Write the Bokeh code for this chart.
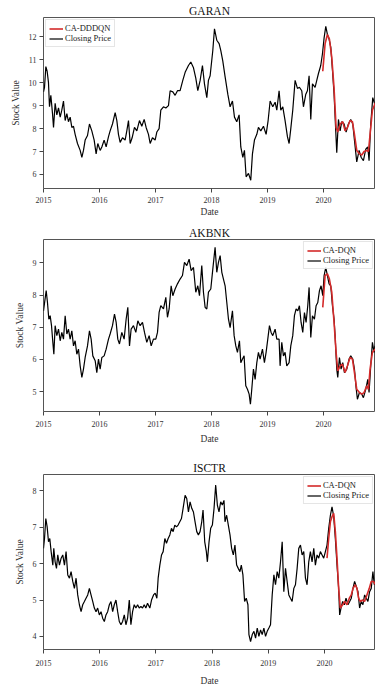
from bokeh.plotting import figure
from bokeh.layouts import column
from bokeh.models import FixedTicker, Legend, LegendItem, Range1d
from bokeh.embed import file_html
from bokeh.resources import INLINE

FONT = "Liberation Serif"
X_TICKS = [2015, 2016, 2017, 2018, 2019, 2020]

# ---------------- GARAN ----------------
garan_t = [0.000,0.018,0.042,0.065,0.089,0.107,0.131,0.161,0.179,0.208,
           0.238,0.268,0.298,0.327,0.357,0.387,0.417,0.446,0.476,0.506,
           0.536,0.565,0.607,0.655,0.685,0.714,0.744,0.786,0.821,0.863,
           0.905,0.940,0.970,1.012,1.042,1.083,1.119,1.161,1.190,1.232,
           1.280,1.310,1.339,1.369,1.411,1.458,1.488,1.518,1.548,1.583,
           1.625,1.667,1.714,1.756,1.798,1.833,1.875,1.905,1.946,1.994,
           2.024,2.065,2.095,2.143,2.185,2.232,2.262,2.310,2.351,2.393,
           2.440,2.488,2.530,2.589,2.631,2.679,2.720,2.756,2.798,2.839,
           2.875,2.917,2.946,2.976,3.024,3.054,3.095,3.137,3.167,3.202,
           3.244,3.292,3.333,3.375,3.411,3.452,3.494,3.524,3.560,3.589,
           3.619,3.661,3.702,3.732,3.768,3.810,3.839,3.881,3.929,3.976,
           4.012,4.048,4.095,4.137,4.167,4.208,4.238,4.274,4.315,4.357,
           4.387,4.417,4.452,4.494,4.536,4.571,4.613,4.643,4.685,4.714,
           4.744,4.774,4.804,4.851,4.881,4.911,4.952,4.982,5.012,5.042,
           5.071,5.101,5.131,5.161,5.190,5.220,5.238,5.268,5.298,5.327,
           5.369,5.405,5.446,5.488,5.524,5.554,5.595,5.637,5.673,5.714,
           5.756,5.792,5.815,5.845,5.881,5.923,5.960]
garan_close = [9.6,9.8,10.7,10.5,10.0,8.95,9.45,8.65,8.05,9.1,
               8.6,8.9,8.5,8.8,9.2,8.35,8.65,8.3,8.5,8.05,
               8.1,7.75,7.35,7.05,6.75,7.05,7.5,7.7,8.2,7.9,
               7.5,6.9,7.35,7.05,7.2,7.5,7.2,7.65,7.9,8.2,
               8.7,8.35,7.75,7.4,7.6,7.5,7.9,8.35,7.35,7.6,
               8.05,7.9,8.35,8.1,8.4,8.05,7.75,7.35,7.6,7.5,
               7.85,8.0,8.8,8.95,8.9,9.0,9.65,9.6,9.45,9.65,
               9.65,10.1,10.45,10.75,10.9,10.65,10.2,9.65,10.1,10.75,
               9.95,9.35,10.1,10.3,11.4,12.35,11.85,11.7,11.4,10.95,
               10.25,9.5,8.95,9.2,8.5,8.3,8.6,7.2,6.75,7.05,
               5.9,6.05,5.75,6.9,7.5,7.75,8.05,7.9,8.1,7.75,
               8.35,9.2,8.95,9.15,8.8,9.65,8.8,8.95,8.35,7.65,
               7.35,8.0,8.8,10.1,9.75,9.8,9.65,8.95,9.5,9.65,
               10.3,8.4,9.95,9.8,10.1,10.4,10.75,11.25,11.95,12.45,
               12.1,11.9,11.55,10.55,9.5,7.9,6.95,8.4,7.9,8.3,
               8.2,7.85,8.2,8.4,8.2,7.5,6.55,7.05,6.75,6.6,
               7.1,7.2,6.6,8.2,9.35,9.0,9.1]
garan_pred_t = [4.988,5.030,5.071,5.107,5.149,5.190,5.226,5.256,5.298,5.345,
                5.387,5.429,5.476,5.518,5.554,5.595,5.643,5.685,5.726,5.774,
                5.804,5.833,5.875,5.923,5.960]
garan_pred = [10.5,11.7,12.1,11.9,11.1,9.75,8.05,7.85,8.2,8.3,
              7.9,8.05,8.35,8.3,7.75,7.05,6.9,6.85,7.0,7.05,
              7.0,7.75,8.8,9.1,9.2]

# ---------------- AKBNK ----------------
akbnk_t = [0.000,0.024,0.048,0.071,0.095,0.119,0.143,0.167,0.185,0.208,
           0.238,0.268,0.298,0.327,0.357,0.387,0.417,0.446,0.476,0.506,
           0.536,0.565,0.595,0.625,0.655,0.685,0.714,0.744,0.786,0.821,
           0.851,0.881,0.923,0.952,0.982,1.012,1.042,1.083,1.119,1.161,
           1.190,1.232,1.268,1.298,1.327,1.357,1.399,1.440,1.476,1.506,
           1.536,1.565,1.607,1.649,1.685,1.726,1.768,1.804,1.845,1.887,
           1.923,1.964,2.006,2.036,2.065,2.095,2.143,2.185,2.214,2.244,
           2.280,2.310,2.351,2.393,2.440,2.482,2.518,2.560,2.601,2.637,
           2.679,2.720,2.756,2.786,2.827,2.857,2.887,2.917,2.946,2.988,
           3.024,3.065,3.095,3.125,3.155,3.185,3.214,3.244,3.274,3.304,
           3.333,3.375,3.405,3.435,3.464,3.500,3.524,3.554,3.583,3.613,
           3.643,3.673,3.696,3.720,3.750,3.780,3.810,3.839,3.869,3.911,
           3.946,3.976,4.006,4.036,4.065,4.095,4.137,4.167,4.208,4.226,
           4.256,4.286,4.315,4.345,4.387,4.417,4.452,4.482,4.512,4.542,
           4.571,4.601,4.631,4.661,4.690,4.720,4.744,4.774,4.804,4.839,
           4.869,4.899,4.929,4.958,4.988,5.012,5.042,5.071,5.101,5.131,
           5.161,5.190,5.208,5.238,5.256,5.286,5.315,5.345,5.375,5.417,
           5.458,5.488,5.524,5.554,5.583,5.607,5.643,5.685,5.714,5.756,
           5.792,5.815,5.845,5.875,5.905,5.923,5.960]
akbnk_close = [7.51,7.83,8.14,7.77,7.25,7.36,7.05,6.53,6.16,7.05,
               6.74,6.94,6.58,6.84,6.63,7.36,6.79,6.94,6.63,6.89,
               6.42,6.58,6.16,6.32,5.80,5.44,5.70,6.06,6.42,6.89,
               6.63,6.11,5.96,5.59,6.01,5.70,6.06,6.11,6.32,6.63,
               6.79,7.05,7.41,7.15,6.63,6.48,6.84,6.63,7.25,7.62,
               6.42,6.94,7.05,6.84,7.20,7.05,7.15,6.84,6.53,6.74,
               6.42,6.63,6.63,6.84,7.46,7.67,7.57,7.93,7.31,7.57,
               8.29,7.98,8.19,8.35,8.50,8.61,9.02,8.92,9.12,8.76,
               8.86,8.09,8.29,7.98,8.92,8.09,7.62,7.57,8.09,8.19,
               8.81,9.49,8.71,9.02,9.23,8.71,8.50,8.29,7.77,7.25,
               6.99,7.51,6.74,6.42,6.22,6.58,5.90,6.01,6.11,5.18,
               5.07,4.92,4.61,5.07,5.70,5.38,5.90,6.22,6.01,6.32,
               5.90,6.22,6.63,7.05,6.84,6.74,6.94,6.63,6.63,5.80,
               6.53,6.11,6.22,5.80,5.90,6.42,6.74,7.36,7.57,7.51,
               7.67,7.15,6.84,7.46,7.15,7.67,8.24,6.68,7.36,7.25,
               7.67,7.77,8.14,8.29,7.98,8.61,8.86,8.61,8.35,8.29,
               7.67,7.25,6.74,5.70,5.44,6.06,5.70,5.90,5.59,5.70,
               6.01,6.11,6.01,5.70,5.13,4.76,4.97,4.92,4.81,5.07,
               5.38,4.97,5.80,6.53,6.22,6.42,6.35]
akbnk_pred_t = [4.988,5.030,5.071,5.107,5.149,5.190,5.226,5.256,5.298,5.339,
                5.387,5.429,5.476,5.518,5.554,5.595,5.643,5.685,5.726,5.774,
                5.804,5.833,5.875,5.923,5.960]
akbnk_pred = [7.62,8.61,8.66,8.50,8.09,7.15,6.22,5.64,5.80,5.85,
              5.59,5.80,6.06,6.01,5.59,5.07,4.97,4.92,4.97,5.18,
              5.07,5.70,6.22,6.32,6.30]

# ---------------- ISCTR ----------------
isctr_t = [0.000,0.018,0.041,0.065,0.089,0.112,0.136,0.166,0.183,0.207,
           0.231,0.254,0.284,0.314,0.343,0.373,0.402,0.432,0.462,0.491,
           0.521,0.550,0.580,0.609,0.639,0.669,0.698,0.728,0.757,0.787,
           0.817,0.846,0.876,0.905,0.935,0.964,0.994,1.024,1.053,1.083,
           1.112,1.142,1.172,1.201,1.231,1.260,1.290,1.320,1.349,1.379,
           1.408,1.438,1.467,1.497,1.527,1.556,1.586,1.615,1.645,1.675,
           1.704,1.734,1.763,1.793,1.822,1.852,1.893,1.923,1.959,1.988,
           2.018,2.041,2.071,2.101,2.130,2.160,2.189,2.219,2.249,2.278,
           2.308,2.337,2.367,2.396,2.426,2.456,2.485,2.521,2.550,2.580,
           2.609,2.639,2.669,2.698,2.728,2.757,2.787,2.817,2.840,2.870,
           2.899,2.917,2.947,2.976,3.006,3.036,3.065,3.095,3.124,3.154,
           3.183,3.213,3.231,3.260,3.290,3.320,3.349,3.379,3.408,3.438,
           3.467,3.497,3.521,3.550,3.580,3.609,3.639,3.657,3.686,3.716,
           3.746,3.775,3.805,3.834,3.864,3.893,3.923,3.953,3.982,4.012,
           4.041,4.071,4.101,4.130,4.160,4.189,4.219,4.249,4.278,4.308,
           4.337,4.367,4.396,4.426,4.456,4.485,4.515,4.544,4.574,4.604,
           4.633,4.663,4.692,4.722,4.751,4.781,4.811,4.840,4.870,4.899,
           4.929,4.959,4.988,5.018,5.047,5.077,5.107,5.136,5.166,5.195,
           5.225,5.254,5.272,5.296,5.325,5.355,5.385,5.420,5.450,5.479,
           5.509,5.538,5.568,5.598,5.627,5.657,5.686,5.716,5.746,5.775,
           5.805,5.834,5.864,5.888,5.911,5.960]
isctr_close = [6.42,6.69,7.24,7.01,6.60,6.69,6.33,5.96,6.42,6.05,
               5.87,6.24,5.96,6.15,6.24,5.96,6.33,5.69,5.60,5.78,
               5.51,5.32,5.60,5.14,4.87,4.68,4.87,4.96,5.05,5.14,
               5.32,5.14,4.96,4.78,4.68,4.78,4.59,4.68,4.50,4.41,
               4.59,4.68,4.87,4.96,4.68,4.87,5.00,4.68,4.41,4.32,
               4.41,4.59,4.32,4.50,5.00,4.32,4.68,4.87,4.78,4.87,
               4.78,4.82,4.78,4.87,4.78,4.91,4.78,5.00,5.14,5.19,
               5.05,5.60,5.96,6.24,6.33,6.69,6.56,6.69,6.79,6.97,
               6.88,7.06,7.01,7.06,7.15,7.24,7.52,7.88,7.79,7.42,
               7.70,7.52,7.42,7.15,6.88,6.79,6.88,7.15,7.47,6.60,
               6.33,6.05,6.60,6.97,7.06,7.52,8.16,7.61,7.42,7.70,
               7.61,7.74,7.15,7.33,7.06,6.79,6.42,6.24,6.51,5.96,
               5.87,5.78,5.96,5.69,4.96,5.05,4.87,4.05,3.86,4.05,
               4.14,3.95,4.23,4.00,4.18,4.05,4.23,4.00,4.14,4.23,
               4.32,5.14,5.69,5.42,5.78,5.60,6.05,6.60,5.23,5.87,
               5.51,5.14,5.05,4.96,5.32,5.42,5.87,6.42,6.51,6.24,
               6.33,5.60,5.42,6.05,6.33,6.05,6.42,5.96,6.24,6.15,
               6.33,6.24,6.15,6.33,6.51,6.97,7.33,7.56,7.29,6.69,
               5.96,5.32,4.59,4.78,4.96,4.87,5.05,4.87,4.96,5.05,
               5.32,5.51,5.37,5.23,4.78,4.96,4.87,5.14,5.05,4.96,
               5.23,5.32,5.78,5.42,5.51,5.40]
isctr_pred_t = [5.047,5.077,5.107,5.136,5.166,5.195,5.225,5.254,5.284,5.325,
                5.361,5.402,5.444,5.479,5.509,5.550,5.580,5.609,5.639,5.680,
                5.716,5.757,5.799,5.834,5.876,5.911,5.960]
isctr_pred = [6.15,6.69,7.15,7.29,7.38,6.88,6.15,5.32,4.78,4.87,
              4.96,4.87,5.05,5.14,5.32,5.42,5.32,5.05,4.96,5.00,
              4.96,5.14,5.32,5.51,5.51,5.42,5.45]


def make(title, t, close, pt, pred, pred_label, y_ticks, y_rng, x_end,
         height, mb_left, mb_bottom, tick_standoff, label_standoff, legend_loc):
    p = figure(width=375, height=height, output_backend="svg", toolbar_location=None,
               x_range=Range1d(2015.0, x_end), y_range=Range1d(*y_rng),
               min_border_left=mb_left, min_border_right=0, min_border_top=17,
               min_border_bottom=mb_bottom)
    p.title.text = title
    p.title.align = "center"
    p.title.text_font = FONT
    p.title.text_font_size = "11.5px"
    p.title.text_font_style = "normal"
    p.title.text_color = "#111111"
    p.title.standoff = 1
    p.grid.visible = False
    p.outline_line_color = "#555555"
    p.outline_line_width = 1
    p.background_fill_color = "white"
    p.border_fill_color = "white"

    p.xaxis.ticker = FixedTicker(ticks=X_TICKS)
    p.yaxis.ticker = FixedTicker(ticks=y_ticks)
    p.axis.axis_line_color = None
    p.axis.major_tick_line_color = "#444444"
    p.axis.major_tick_out = 4
    p.axis.major_tick_in = 0
    p.axis.minor_tick_line_color = None
    p.axis.major_label_text_font = FONT
    p.axis.major_label_text_font_size = "8px"
    p.axis.major_label_text_color = "#333333"
    p.axis.axis_label_text_font = FONT
    p.axis.axis_label_text_font_size = "9.5px"
    p.axis.axis_label_text_font_style = "normal"
    p.axis.axis_label_text_color = "#333333"
    p.xaxis.major_label_standoff = tick_standoff
    p.yaxis.major_label_standoff = 3
    p.xaxis.axis_label_standoff = label_standoff
    p.yaxis.axis_label_standoff = 5
    p.xaxis.axis_label = "Date"
    p.yaxis.axis_label = "Stock Value"

    xs = [2015 + v for v in t]
    pxs = [2015 + v for v in pt]
    r_close = p.line(xs, close, line_color="black", line_width=1.2)
    r_pred = p.line(pxs, pred, line_color="#d42a2a", line_width=1.6)

    legend = Legend(items=[LegendItem(label=pred_label, renderers=[r_pred]),
                           LegendItem(label="Closing Price", renderers=[r_close])],
                    location=legend_loc)
    legend.label_text_font = FONT
    legend.label_text_font_size = "8.5px"
    legend.label_text_color = "#222222"
    legend.label_height = 9
    legend.glyph_height = 9
    legend.glyph_width = 14
    legend.label_standoff = 2
    legend.padding = 3
    legend.spacing = 0
    legend.margin = 2
    legend.border_line_color = "#cccccc"
    legend.border_line_width = 1
    legend.background_fill_alpha = 0.85
    p.add_layout(legend)
    return p


p1 = make("GARAN", garan_t, garan_close, garan_pred_t, garan_pred, "CA-DDDQN",
          [6, 7, 8, 9, 10, 11, 12], (5.39, 12.84), 2020.93,
          222, 43, 34, 4, 1, "top_left")
p2 = make("AKBNK", akbnk_t, akbnk_close, akbnk_pred_t, akbnk_pred, "CA-DQN",
          [5, 6, 7, 8, 9], (4.38, 9.73), 2020.93,
          235, 43, 46, 5, 4, "top_right")
p3 = make("ISCTR", isctr_t, isctr_close, isctr_pred_t, isctr_pred, "CA-DQN",
          [4, 5, 6, 7, 8], (3.64, 8.45), 2020.91,
          231, 42, 38, 6, 7, "top_right")

layout = column(p1, p2, p3)
open("out.html", "w").write(file_html(layout, INLINE))
